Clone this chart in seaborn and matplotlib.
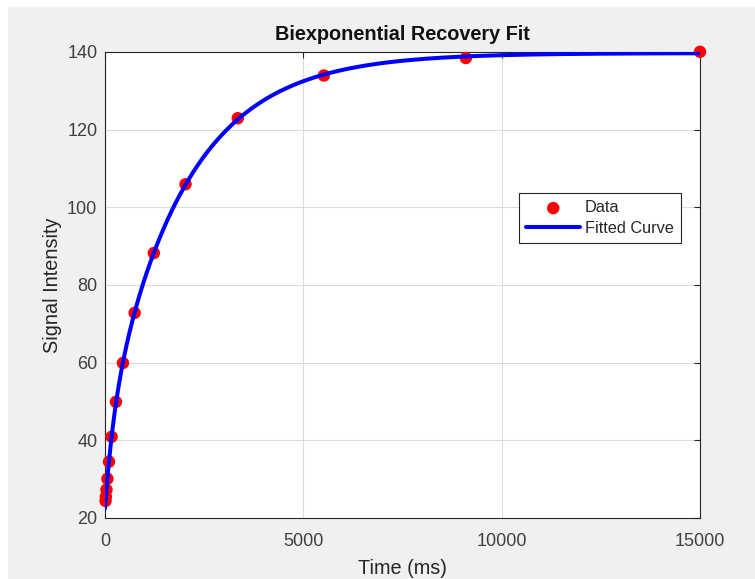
import numpy as np
import pandas as pd
import matplotlib
matplotlib.use("Agg")
import matplotlib.pyplot as plt
from matplotlib.patches import Rectangle
import seaborn as sns

# Measured recovery samples
time_ms = [14, 22, 37, 61, 101, 167, 275, 453, 747, 1231, 2030, 3347, 5518, 9098, 15000]
signal = [24.4, 25.5, 27.3, 30.1, 34.5, 40.9, 49.9, 59.9, 72.8, 88.2, 105.9, 122.9, 133.9, 138.4, 140.0]

x_ticks = [0, 5000, 10000, 15000]
y_ticks = [20, 40, 60, 80, 100, 120, 140]

t = np.asarray(time_ms, dtype=float)
s = np.asarray(signal, dtype=float)


def biexp_fit(t, s):
    """Least-squares fit of S0 + A1*exp(-t/T1) + A2*exp(-t/T2) by grid search over T1, T2."""
    best = None
    for T1 in np.logspace(1, 3.3, 120):
        for T2 in np.logspace(2.8, 4.0, 120):
            if T2 <= T1:
                continue
            X = np.column_stack([np.ones_like(t), np.exp(-t / T1), np.exp(-t / T2)])
            coef, *_ = np.linalg.lstsq(X, s, rcond=None)
            err = np.sum((X @ coef - s) ** 2)
            if best is None or err < best[0]:
                best = (err, coef, T1, T2)
    _, coef, T1, T2 = best
    return lambda tt: coef[0] + coef[1] * np.exp(-tt / T1) + coef[2] * np.exp(-tt / T2)


model = biexp_fit(t, s)
t_fine = np.linspace(0, 15000, 1500)
fit_df = pd.DataFrame({"Time (ms)": t_fine, "Signal": model(t_fine)})
data_df = pd.DataFrame({"Time (ms)": t, "Signal": s})

sns.set_theme(style="white")
plt.rcParams["font.family"] = ["Liberation Sans", "DejaVu Sans"]

fig = plt.figure(figsize=(7.55, 5.79), dpi=100, facecolor="white")
fig.patches.append(Rectangle((8 / 755, 0), 1, 1 - 7 / 579, transform=fig.transFigure,
                             facecolor="#f0f0f0", edgecolor="none", zorder=-10))
ax = fig.add_axes([105 / 755, 1 - 518 / 579, 595 / 755, (518 - 51.8) / 579])
ax.set_facecolor("white")

sns.scatterplot(data=data_df, x="Time (ms)", y="Signal", ax=ax, color="red", s=80,
                edgecolor="none", label="Data", zorder=3, clip_on=False)
sns.lineplot(data=fit_df, x="Time (ms)", y="Signal", ax=ax, color="blue", linewidth=2.9,
             label="Fitted Curve", zorder=4)

ax.set_xlim(0, 15000)
ax.set_ylim(20, 140)
ax.set_xticks(x_ticks)
ax.set_yticks(y_ticks)
ax.grid(True, color="#dcdcdc", linewidth=0.8)
ax.set_axisbelow(True)
for sp in ax.spines.values():
    sp.set_color("#262626")
    sp.set_linewidth(0.8)
ax.tick_params(direction="in", length=4, width=0.8, colors="#262626", labelsize=13,
               top=True, right=True, labelcolor="#404040")
ax.tick_params(axis="x", pad=11)
ax.tick_params(axis="y", pad=5.5)

ax.set_title("Biexponential Recovery Fit", fontsize=14.3, fontweight="bold", color="#111111", pad=8.5)
ax.set_xlabel("Time (ms)", fontsize=14.3, color="#262626", labelpad=6)
ax.set_ylabel("Signal Intensity", fontsize=14.3, color="#262626", labelpad=4)

leg = ax.legend(loc="upper left", bbox_to_anchor=(0.696, 0.697), fontsize=11.7, frameon=True,
                fancybox=False, borderpad=0.45, handlelength=3.3, handletextpad=0.3,
                labelspacing=0.35, borderaxespad=0)
leg.get_frame().set_edgecolor("#262626")
leg.get_frame().set_linewidth(0.8)
leg.get_frame().set_facecolor("white")
leg.get_frame().set_alpha(1)

fig.savefig("out.png", dpi=100, facecolor=fig.get_facecolor())
